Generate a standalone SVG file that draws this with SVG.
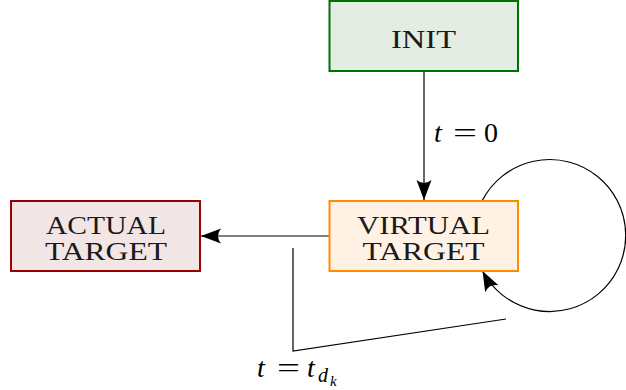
<svg xmlns="http://www.w3.org/2000/svg" width="626" height="390" viewBox="0 0 626 390">
<style>
.box{stroke-width:2}
.lbl{font-family:"Liberation Serif","Times New Roman",serif;font-size:25px;fill:#1a1a1a;text-anchor:middle}
.math{font-family:"Liberation Serif","Times New Roman",serif;font-size:28px;fill:#000}
.it{font-style:italic}
.edge{fill:none;stroke:#000;stroke-width:1.2}
</style>
<defs>
<marker id="ah" markerUnits="userSpaceOnUse" markerWidth="24" markerHeight="18" viewBox="-21 -9 23 18" refX="0" refY="0" orient="auto">
<path d="M0,0 L-20,-7.5 Q-14,0 -20,7.5 Z" fill="#000"/>
</marker>
</defs>
<rect width="626" height="390" fill="#fff"/>
<g id="connectors">
<line class="edge" x1="424" y1="71" x2="424" y2="200" marker-end="url(#ah)"/>
<line class="edge" x1="329" y1="236" x2="201" y2="236" marker-end="url(#ah)"/>
<path class="edge" d="M482,201 A76,76 0 1 1 482.5,271" marker-end="url(#ah)"/>
<path class="edge" d="M293,248 L293,351 L506,319" stroke-width="1"/>
</g>
<g id="INIT">
<rect class="box" x="329.5" y="1" width="188.5" height="70" fill="#e4ede4" stroke="#007000"/>
<text class="lbl" x="423.5" y="47.5" font-size="27" textLength="65" lengthAdjust="spacingAndGlyphs">INIT</text>
</g>
<g id="VIRTUAL_TARGET">
<rect class="box" x="329.5" y="201" width="188.5" height="70" fill="#fff2e5" stroke="#ff8c00"/>
<text class="lbl"><tspan x="423.5" y="234" textLength="133" lengthAdjust="spacingAndGlyphs">VIRTUAL</tspan><tspan x="423.5" y="260" textLength="122" lengthAdjust="spacingAndGlyphs">TARGET</tspan></text>
</g>
<g id="ACTUAL_TARGET">
<rect class="box" x="11" y="201" width="189" height="70" fill="#f2e5e5" stroke="#990000"/>
<text class="lbl"><tspan x="106" y="234" textLength="120" lengthAdjust="spacingAndGlyphs">ACTUAL</tspan><tspan x="106" y="260" textLength="122" lengthAdjust="spacingAndGlyphs">TARGET</tspan></text>
</g>
<g id="label_t0">
<text class="math" y="142"><tspan class="it" x="434">t</tspan><tspan x="453" textLength="24" lengthAdjust="spacingAndGlyphs">=</tspan><tspan x="484">0</tspan></text>
</g>
<g id="label_tdk">
<text class="math" y="377"><tspan class="it" x="257">t</tspan><tspan x="277" textLength="23" lengthAdjust="spacingAndGlyphs">=</tspan><tspan class="it" x="307">t</tspan><tspan class="it" x="318" y="382" font-size="20">d</tspan><tspan class="it" x="330" y="386" font-size="15">k</tspan></text>
</g>
</svg>
